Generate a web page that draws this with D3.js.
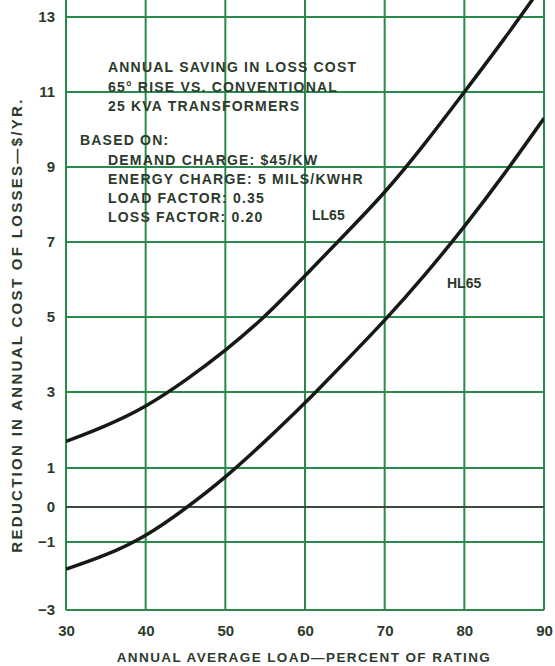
<!DOCTYPE html>
<html>
<head>
<meta charset="utf-8">
<script src="https://cdn.jsdelivr.net/npm/d3@7"></script>
<style>
  body { margin: 0; background: #fff; }
  text { font-family: "Liberation Sans", Arial, sans-serif; fill: #2c3a2c; }
</style>
</head>
<body>
<svg id="chart"></svg>
<script>
// data
const loadPct = [30, 35, 40, 45, 50, 55, 60, 65, 70, 75, 80, 85, 90];
const ll65 = [1.7, 2.1, 2.6, 3.3, 4.1, 5.0, 6.1, 7.2, 8.3, 9.6, 11.0, 12.4, 13.9];
const hl65 = [-1.8, -1.4, -0.85, -0.05, 0.75, 1.7, 2.7, 3.8, 4.9, 6.1, 7.4, 8.8, 10.3];
const xTicks = [30, 40, 50, 60, 70, 80, 90];
const yTicks = [-3, -1, 0, 1, 3, 5, 7, 9, 11, 13];
const notes = [
  "ANNUAL SAVING IN LOSS COST",
  "65° RISE VS. CONVENTIONAL",
  "25 KVA TRANSFORMERS"
];
const basis = [
  "DEMAND CHARGE: $45/KW",
  "ENERGY CHARGE: 5 MILS/KWHR",
  "LOAD FACTOR: 0.35",
  "LOSS FACTOR: 0.20"
];

const width = 555;
const height = 666;
const margin = { top: 0, right: 11, bottom: 56, left: 66 };
const green = "#2a8a4c";
const ink = "#2c3a2c";

const svg = d3.select("#chart").attr("width", width).attr("height", height);

const x = d3.scaleLinear().domain([30, 90]).range([margin.left, width - margin.right]);
// the printed grid is not quite even below 3, so the scale follows it piecewise
const y = d3.scaleLinear().domain([-3, -1, 0, 1, 3, 13]).range([610, 542, 507, 468, 392, 17]);
const plotTop = margin.top;

// vertical grid lines
svg.append("g")
  .selectAll("line")
  .data(xTicks)
  .enter()
  .append("line")
  .attr("x1", (d) => x(d))
  .attr("x2", (d) => x(d))
  .attr("y1", plotTop)
  .attr("y2", y(-3))
  .attr("stroke", green)
  .attr("stroke-width", 2);

// horizontal grid lines
svg.append("g")
  .selectAll("line")
  .data(yTicks)
  .enter()
  .append("line")
  .attr("x1", x(30))
  .attr("x2", x(90))
  .attr("y1", (d) => y(d))
  .attr("y2", (d) => y(d))
  .attr("stroke", (d) => (d === 0 ? "#3c4a3e" : green))
  .attr("stroke-width", 2);

// tick labels
svg.append("g")
  .attr("transform", `translate(${x(30)},0)`)
  .call(d3.axisLeft(y).tickValues(yTicks).tickSize(0).tickPadding(11)
    .tickFormat((d) => (d < 0 ? "\u2212" + Math.abs(d) : d)))
  .call((g) => g.select(".domain").remove())
  .selectAll("text")
  .attr("font-size", 15)
  .attr("font-weight", "bold")
  .attr("font-family", "Liberation Sans, Arial, sans-serif")
  .attr("fill", ink);

svg.append("g")
  .attr("transform", `translate(0,${y(-3)})`)
  .call(d3.axisBottom(x).tickValues(xTicks).tickSize(0).tickPadding(15))
  .call((g) => g.select(".domain").remove())
  .selectAll("text")
  .attr("font-size", 15)
  .attr("font-weight", "bold")
  .attr("font-family", "Liberation Sans, Arial, sans-serif")
  .attr("fill", ink);

// axis titles
svg.append("text")
  .attr("x", 304)
  .attr("y", 662)
  .attr("text-anchor", "middle")
  .attr("font-size", 13.5)
  .attr("font-weight", "bold")
  .attr("letter-spacing", 1.4)
  .text("ANNUAL AVERAGE LOAD\u2014PERCENT OF RATING");

svg.append("text")
  .attr("transform", `translate(22, 325) rotate(-90)`)
  .attr("text-anchor", "middle")
  .attr("font-size", 15)
  .attr("font-weight", "bold")
  .attr("letter-spacing", 2.3)
  .text("REDUCTION IN ANNUAL COST OF LOSSES\u2014$/YR.");

// curves
svg.append("clipPath")
  .attr("id", "plot")
  .append("rect")
  .attr("x", x(30))
  .attr("y", plotTop)
  .attr("width", x(90) - x(30))
  .attr("height", y(-3) - plotTop);

const line = d3.line()
  .x((d, i) => x(loadPct[i]))
  .y((d) => y(d))
  .curve(d3.curveBasis);

[ll65, hl65].forEach((series) => {
  svg.append("path")
    .datum(series)
    .attr("clip-path", "url(#plot)")
    .attr("d", line)
    .attr("fill", "none")
    .attr("stroke", "#161a16")
    .attr("stroke-width", 3.5);
});

// notes
svg.append("g")
  .selectAll("text")
  .data(notes)
  .enter()
  .append("text")
  .attr("x", 108)
  .attr("y", (d, i) => 72 + i * 19.5)
  .attr("font-size", 14)
  .attr("font-weight", "bold")
  .attr("letter-spacing", 1.2)
  .text((d) => d);

svg.append("text")
  .attr("x", 80)
  .attr("y", 145)
  .attr("font-size", 14)
  .attr("font-weight", "bold")
  .attr("letter-spacing", 1.2)
  .text("BASED ON:");

svg.append("g")
  .selectAll("text")
  .data(basis)
  .enter()
  .append("text")
  .attr("x", 108)
  .attr("y", (d, i) => 165 + i * 19)
  .attr("font-size", 14)
  .attr("font-weight", "bold")
  .attr("letter-spacing", 1.2)
  .attr("fill", (d, i) => (i === 0 ? "#4e7a55" : ink))
  .text((d) => d);

svg.append("text")
  .attr("x", 312)
  .attr("y", 220)
  .attr("font-size", 14)
  .attr("font-weight", "bold")
  .text("LL65");

svg.append("text")
  .attr("x", 447)
  .attr("y", 288)
  .attr("font-size", 14)
  .attr("font-weight", "bold")
  .attr("fill", "#3a5a42")
  .text("HL65");
</script>
</body>
</html>
